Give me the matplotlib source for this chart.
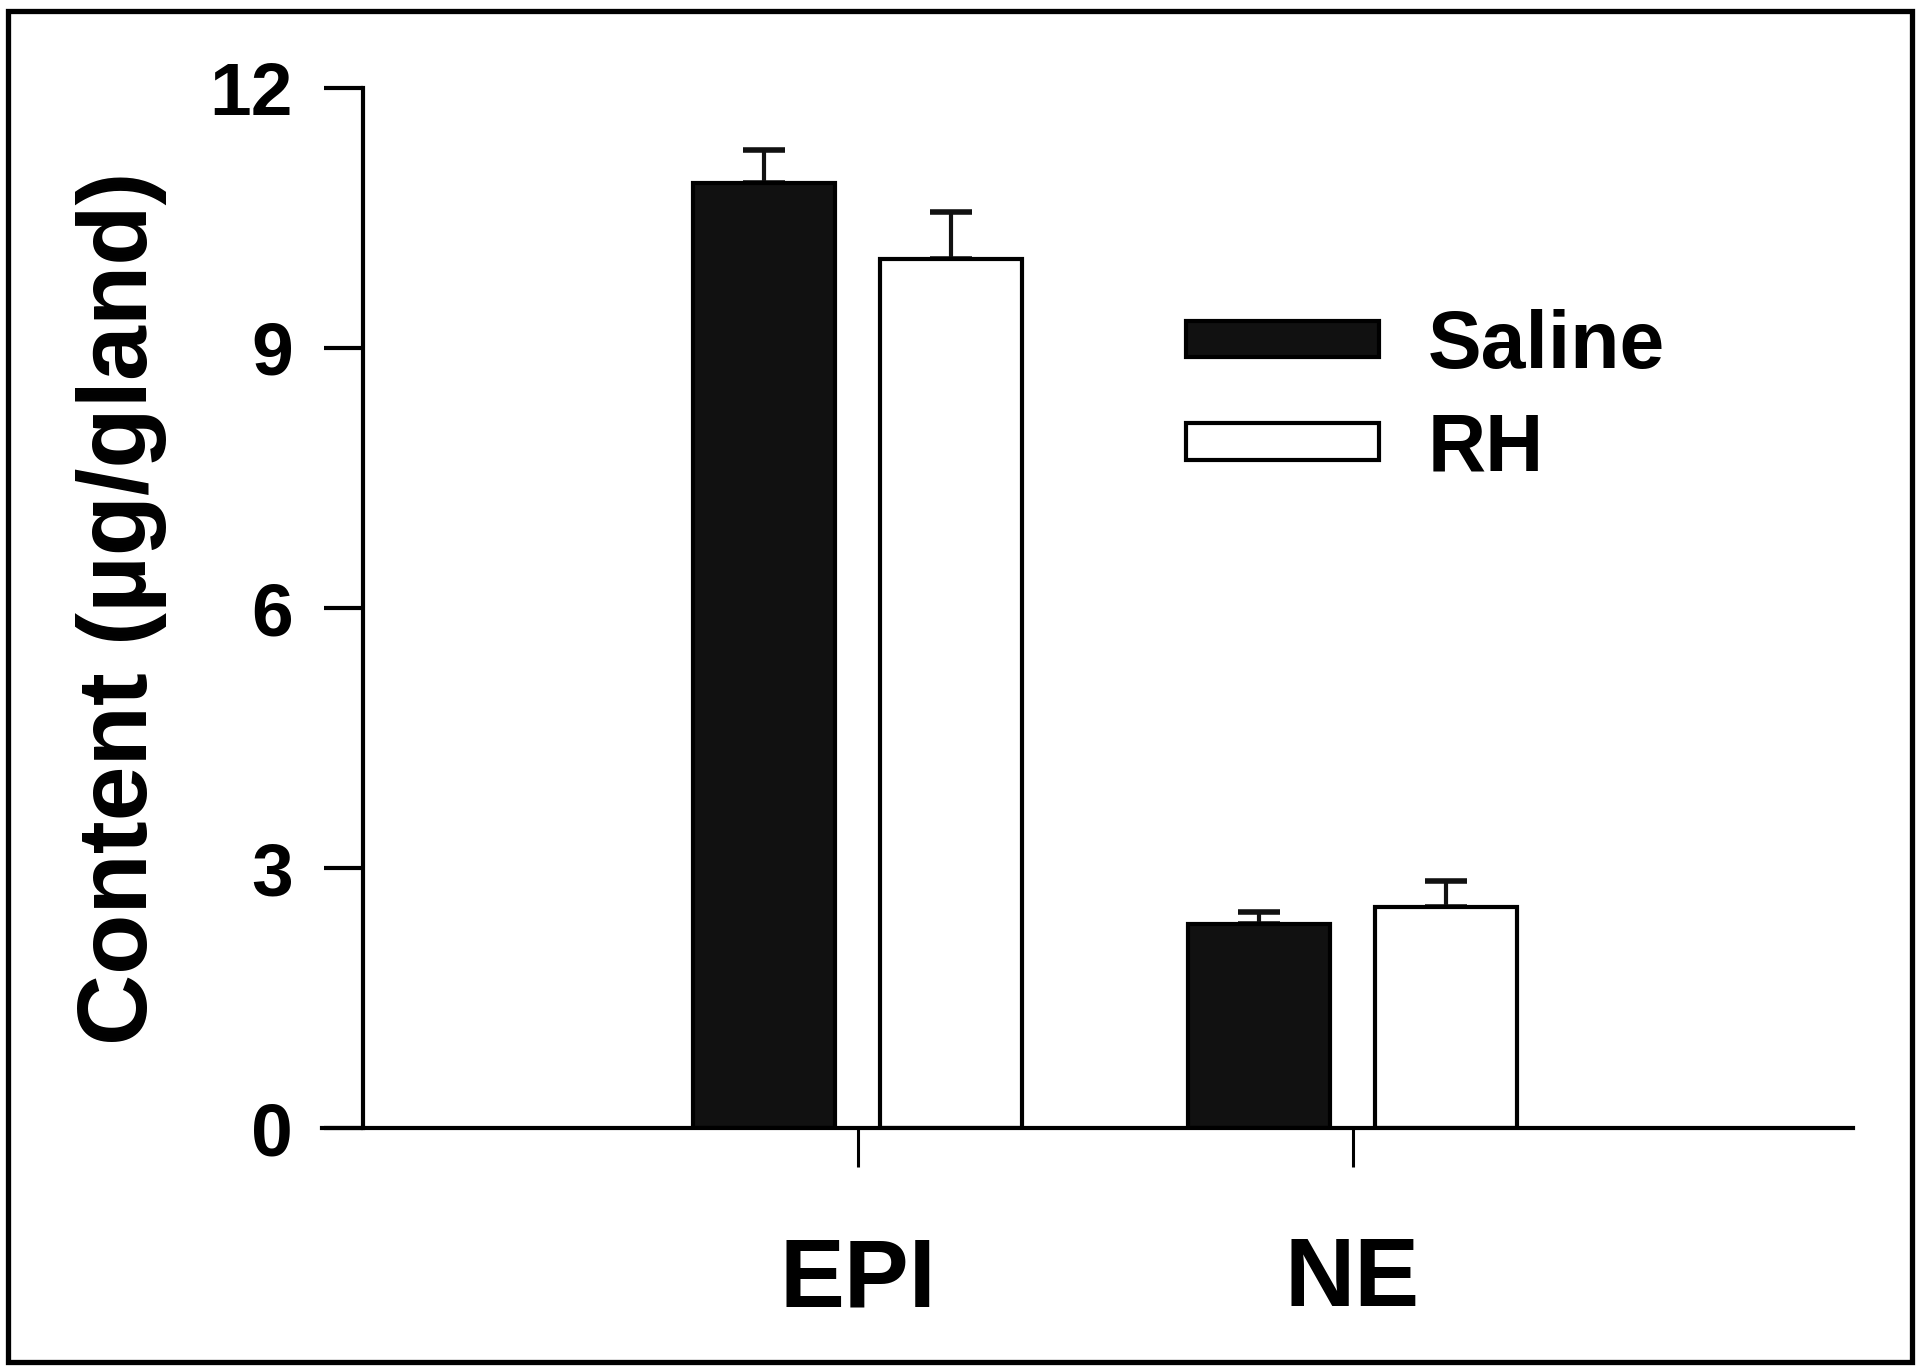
import numpy as np
import matplotlib
matplotlib.use("Agg")
import matplotlib.pyplot as plt
from matplotlib.patches import Rectangle

plt.rcParams['font.family'] = ['Liberation Sans', 'DejaVu Sans']
plt.rcParams['font.weight'] = 'bold'

# data
groups = ['EPI', 'NE']
series = ['Saline', 'RH']
saline = [10.90, 2.35]
saline_err = [0.38, 0.14]
rh = [10.03, 2.55]
rh_err = [0.54, 0.30]
yticks = [0, 3, 6, 9, 12]

fig = plt.figure(figsize=(19.2, 13.7), dpi=100)
ax = fig.add_axes([0.1677, 0.1766, 0.7974, 0.7592])

x = np.arange(len(groups))
w = 0.287
off = 0.189
lw = 3.0

ax.bar(x - off, saline, w, color='#111111', edgecolor='black', linewidth=lw,
       label=series[0], zorder=3)
ax.bar(x + off, rh, w, color='white', edgecolor='black', linewidth=lw,
       label=series[1], zorder=3)

# upper error bars only
ax.errorbar(x - off, saline, yerr=[np.zeros(2), saline_err], fmt='none',
            ecolor='#111111', elinewidth=3, capsize=15, capthick=4, zorder=2)
ax.errorbar(x + off, rh, yerr=[np.zeros(2), rh_err], fmt='none',
            ecolor='#111111', elinewidth=3, capsize=15, capthick=4, zorder=2)

ax.set_xlim(-1.082, 2.011)
ax.set_ylim(0, 12)
ax.spines['top'].set_visible(False)
ax.spines['right'].set_visible(False)
ax.spines['left'].set_position(('data', -1.0))
ax.spines['left'].set_linewidth(lw)
ax.spines['bottom'].set_linewidth(lw)
ax.spines['left'].set_zorder(4)
ax.spines['bottom'].set_zorder(4)

ax.set_yticks(yticks)
ax.set_yticklabels([str(v) for v in yticks], fontsize=54, fontweight='bold')
ax.tick_params(axis='y', direction='out', length=28, width=lw, pad=22)
ax.set_xticks(x)
ax.set_xticklabels(groups, fontsize=70, fontweight='bold')
ax.tick_params(axis='x', direction='out', length=28, width=2.2, pad=50)

ax.set_ylabel('Content (µg/gland)', fontsize=71, fontweight='bold')
ax.yaxis.set_label_coords(-0.101, 0.5)

leg = ax.legend(loc='upper left', bbox_to_anchor=(0.6177, 0.7745),
                bbox_transform=fig.transFigure, frameon=False, fontsize=58,
                borderpad=0, borderaxespad=0, handlelength=2.4,
                handleheight=0.32, handletextpad=0.6, labelspacing=0.33)
for t in leg.get_texts():
    t.set_fontweight('bold')

# outer frame around the whole figure
fig.add_artist(Rectangle((0.0042, 0.0058), 0.9916, 0.9862, transform=fig.transFigure,
                         fill=False, edgecolor='black', linewidth=3.8))

fig.savefig('out.png', dpi=100, facecolor='white')
